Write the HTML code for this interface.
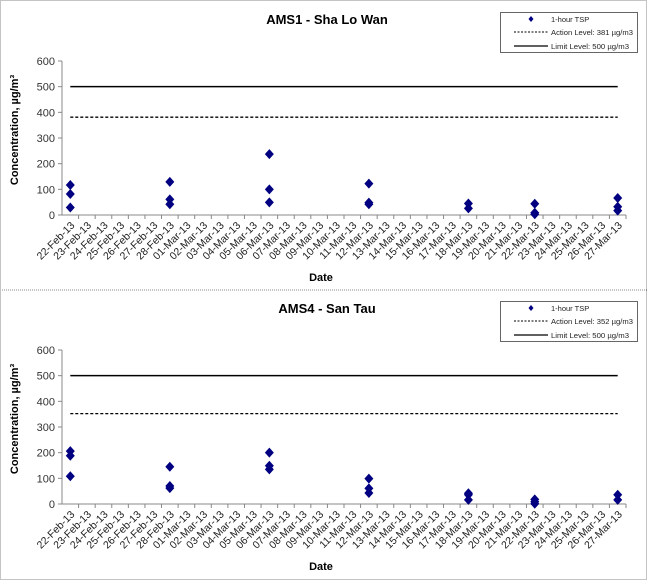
<!DOCTYPE html>
<html><head><meta charset="utf-8"><style>
body{margin:0;background:#fff;}
svg{display:block;font-family:"Liberation Sans",Arial,sans-serif;}
</style></head><body>
<svg id="svg" width="647" height="580" viewBox="0 0 647 580">
<rect x="0.5" y="0.5" width="646" height="579" fill="#fff" stroke="#888" stroke-dasharray="1,1"/>
<line x1="0" y1="290" x2="647" y2="290" stroke="#888" stroke-dasharray="1,1"/>
<g id="c1"></g>
<g id="c2"></g>
</svg>
<script>
const categories=["22-Feb-13","23-Feb-13","24-Feb-13","25-Feb-13","26-Feb-13","27-Feb-13","28-Feb-13","01-Mar-13","02-Mar-13","03-Mar-13","04-Mar-13","05-Mar-13","06-Mar-13","07-Mar-13","08-Mar-13","09-Mar-13","10-Mar-13","11-Mar-13","12-Mar-13","13-Mar-13","14-Mar-13","15-Mar-13","16-Mar-13","17-Mar-13","18-Mar-13","19-Mar-13","20-Mar-13","21-Mar-13","22-Mar-13","23-Mar-13","24-Mar-13","25-Mar-13","26-Mar-13","27-Mar-13"];
const yTicks=[0,100,200,300,400,500,600];
const ams1Dates=["22-Feb-13","22-Feb-13","22-Feb-13","28-Feb-13","28-Feb-13","28-Feb-13","06-Mar-13","06-Mar-13","06-Mar-13","12-Mar-13","12-Mar-13","12-Mar-13","18-Mar-13","18-Mar-13","22-Mar-13","22-Mar-13","22-Mar-13","27-Mar-13","27-Mar-13","27-Mar-13"];
const ams1Values=[117,82,29,129,61,42,237,100,49,122,48,42,45,26,44,9,3,66,32,17];
const ams1Action=381;
const ams1Limit=500;
const ams4Dates=["22-Feb-13","22-Feb-13","22-Feb-13","28-Feb-13","28-Feb-13","28-Feb-13","06-Mar-13","06-Mar-13","06-Mar-13","12-Mar-13","12-Mar-13","12-Mar-13","18-Mar-13","18-Mar-13","18-Mar-13","22-Mar-13","22-Mar-13","22-Mar-13","27-Mar-13","27-Mar-13"];
const ams4Values=[206,188,108,145,70,62,200,149,135,99,61,43,42,36,16,18,9,1,36,16];
const ams4Action=352;
const ams4Limit=500;

const NS="http://www.w3.org/2000/svg";
function mk(p,tag,at,txt){const e=document.createElementNS(NS,tag);for(const k in at)e.setAttribute(k,at[k]);if(txt!==undefined)e.textContent=txt;p.appendChild(e);return e;}

function draw(gid,oy,title,dates,values,action,limit){
  const g=document.getElementById(gid);
  const x0=62,x1=626,yTop=oy+61,yBot=oy+215;
  const cw=(x1-x0)/categories.length;
  const xs=c=>x0+(categories.indexOf(c)+0.5)*cw;
  const ys=v=>yBot-(v/600)*(yBot-yTop);
  let t=mk(g,'text',{x:327,y:oy+24,'text-anchor':'middle','font-size':13,'font-weight':'bold',fill:'#000'},title);
  
  
  let ax=mk(g,'line',{x1:x0,y1:yTop,x2:x0,y2:yBot,stroke:'#888'});
  
  
  yTicks.forEach(v=>{
    mk(g,'line',{x1:x0-4,y1:ys(v),x2:x0,y2:ys(v),stroke:'#888'});
    const l=mk(g,'text',{x:x0-7,y:ys(v)+4,'text-anchor':'end','font-size':11,fill:'#333'},v);
    
    
  });
  let xa=mk(g,'line',{x1:x0,y1:yBot,x2:x1,y2:yBot,stroke:'#888'});
  
  
  categories.forEach((c,i)=>{
    const tx=x0+(i+1)*cw;
    mk(g,'line',{x1:tx,y1:yBot,x2:tx,y2:yBot+4,stroke:'#888'});
    const cx=x0+(i+0.5)*cw+5;
    const l=mk(g,'text',{x:cx,y:yBot+11,'text-anchor':'end','font-size':10.5,fill:'#222',transform:`rotate(-45 ${cx} ${yBot+11})`},c);
    
    
  });
  const yt=mk(g,'text',{x:18,y:oy+130,'text-anchor':'middle','font-size':11,'font-weight':'bold',fill:'#000',transform:`rotate(-90 18 ${oy+130})`},'Concentration, µg/m³');
  
  
  const xt=mk(g,'text',{x:321,y:oy+281,'text-anchor':'middle','font-size':11,'font-weight':'bold',fill:'#000'},'Date');
  
  
  const lx1=xs(categories[0]),lx2=xs(categories[categories.length-1]);
  const al=mk(g,'line',{x1:lx1,y1:ys(action),x2:lx2,y2:ys(action),stroke:'#000','stroke-width':1.3,'stroke-dasharray':'3,2'});
  
  
  const ll=mk(g,'line',{x1:lx1,y1:ys(limit),x2:lx2,y2:ys(limit),stroke:'#000','stroke-width':1.5});
  
  
  dates.forEach((d,i)=>{
    const px=xs(d),py=ys(values[i]);
    const p=mk(g,'polygon',{points:`${px},${py-5} ${px+4.5},${py} ${px},${py+5} ${px-4.5},${py}`,fill:'#000080'});
    
    
  });
  const lg=mk(g,'g',{});
  
  
  mk(lg,'rect',{x:500.5,y:oy+12.5,width:137,height:40,fill:'#fff',stroke:'#666'});
  mk(lg,'polygon',{points:`531,${oy+16} 533.5,${oy+19} 531,${oy+22} 528.5,${oy+19}`,fill:'#000080'});
  mk(lg,'text',{x:551,y:oy+22,'font-size':7.5,fill:'#222'},'1-hour TSP');
  mk(lg,'line',{x1:514,y1:oy+32,x2:548,y2:oy+32,stroke:'#000','stroke-dasharray':'2,1.5'});
  mk(lg,'text',{x:551,y:oy+35,'font-size':7.5,fill:'#222',textLength:82,lengthAdjust:'spacingAndGlyphs'},`Action Level: ${action} µg/m3`);
  mk(lg,'line',{x1:514,y1:oy+46,x2:548,y2:oy+46,stroke:'#000','stroke-width':1.3});
  mk(lg,'text',{x:551,y:oy+49,'font-size':7.5,fill:'#222',textLength:78,lengthAdjust:'spacingAndGlyphs'},`Limit Level: ${limit} µg/m3`);
}
draw('c1',0,'AMS1 - Sha Lo Wan',ams1Dates,ams1Values,ams1Action,ams1Limit);
draw('c2',289,'AMS4 - San Tau',ams4Dates,ams4Values,ams4Action,ams4Limit);
</script>
</body></html>
